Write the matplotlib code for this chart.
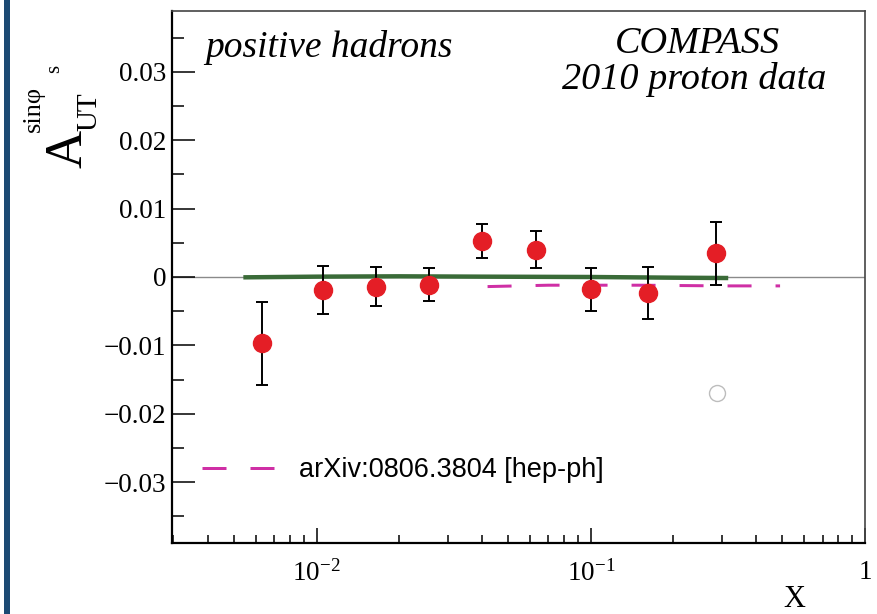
import matplotlib
matplotlib.use("Agg")
import matplotlib.pyplot as plt
from matplotlib.ticker import FixedLocator, FuncFormatter, MultipleLocator, LogLocator, NullFormatter
from matplotlib.patches import Rectangle

plt.rcParams['mathtext.fontset'] = 'custom'
plt.rcParams['mathtext.rm'] = 'Liberation Serif'
plt.rcParams['mathtext.it'] = 'Liberation Serif:italic'

# ---- data ----
x_pts = [0.0063, 0.0105, 0.0164, 0.0257, 0.0402, 0.063, 0.100, 0.161, 0.285]
a_ut = [-0.0097, -0.0019, -0.0014, -0.0011, 0.0053, 0.0040, -0.0018, -0.0023, 0.0035]
a_err = [0.0061, 0.0035, 0.0029, 0.0024, 0.0025, 0.0027, 0.0031, 0.0038, 0.0046]

green_x = [0.0054, 0.01, 0.02, 0.04, 0.1, 0.2, 0.317]
green_y = [-0.00005, 0.00005, 0.0001, 0.00005, 0.0, -0.0001, -0.00015]

theory_x = [0.042, 0.07, 0.15, 0.3, 0.49]
theory_y = [-0.0014, -0.0012, -0.0012, -0.0013, -0.0013]
theory_label = "arXiv:0806.3804 [hep-ph]"

open_x = [0.288]
open_y = [-0.0169]

y_ticks = [-0.03, -0.02, -0.01, 0.0, 0.01, 0.02, 0.03]
x_ticks = [0.01, 0.1, 1.0]
x_ticklabels = [r'$10^{-2}$', r'$10^{-1}$', '1']

W, H = 877, 614
fig = plt.figure(figsize=(W / 100, H / 100), dpi=100)
fig.patch.set_facecolor('white')
fig.add_artist(Rectangle((4 / W, 0), 5.5 / W, 1, transform=fig.transFigure,
                         facecolor='#1c4a73', edgecolor='none'))

ax = fig.add_axes([172 / W, 1 - 543 / H, (865 - 172) / W, (543 - 11) / H])
ax.set_xscale('log')
ax.set_xlim(0.002966, 1.0)
ax.set_ylim(-0.0389, 0.0389)

ax.axhline(0, color='#8a8a8a', lw=1.0, zorder=1)

ax.plot(green_x, green_y, color='#3a6b38', lw=3.2, solid_capstyle='butt', zorder=2)
ax.plot(theory_x, theory_y, color='#cf2fa5', lw=2.16, dashes=(8, 8),
        dash_capstyle='butt', label=theory_label, zorder=2)

ax.errorbar(x_pts, a_ut, yerr=a_err, fmt='o', color='#e41e26', markersize=13,
            ecolor='black', elinewidth=1.4, capsize=4.5, capthick=1.4, zorder=3)

ax.plot(open_x, open_y, 'o', markersize=11.5, markerfacecolor='none',
        markeredgecolor='#bdbdbd', markeredgewidth=1.0, zorder=2)

# ticks
ax.yaxis.set_major_locator(FixedLocator(y_ticks))
ax.yaxis.set_minor_locator(MultipleLocator(0.005))
ax.yaxis.set_major_formatter(FuncFormatter(
    lambda v, p: '0' if abs(v) < 1e-9 else ('%.2f' % v).replace('-', '\u2212')))
ax.xaxis.set_major_locator(FixedLocator(x_ticks))
ax.xaxis.set_major_formatter(FuncFormatter(lambda v, p: x_ticklabels[p] if p is not None and p < len(x_ticklabels) else ''))
ax.xaxis.set_minor_locator(LogLocator(base=10, subs=[2, 3, 4, 5, 6, 7, 8, 9], numticks=20))
ax.xaxis.set_minor_formatter(NullFormatter())

ax.tick_params(axis='y', which='major', direction='in', length=16.5, width=1.1, pad=4,
               labelsize=19.5, right=False)
ax.tick_params(axis='y', which='minor', direction='in', length=8.6, width=1.1, right=False)
ax.tick_params(axis='x', which='major', direction='in', length=10.8, width=1.1, pad=12,
               labelsize=19.5, top=False)
ax.tick_params(axis='x', which='minor', direction='in', length=5.8, width=1.1, top=False)
for lab in ax.get_yticklabels() + ax.get_xticklabels():
    lab.set_family('Liberation Serif')

for s in ['left', 'bottom']:
    ax.spines[s].set_linewidth(1.6)
    ax.spines[s].set_color('black')
for s in ['top', 'right']:
    ax.spines[s].set_linewidth(1.2)
    ax.spines[s].set_color('#444444')

# legend
leg = ax.legend(loc='center left', bbox_to_anchor=(202 / W, 1 - 470 / H),
                bbox_transform=fig.transFigure, frameon=False, borderpad=0,
                borderaxespad=0, handlelength=2.69, handletextpad=0.89,
                prop={'family': 'Liberation Sans', 'size': 19.5})

# annotations
serif_it = dict(family='Liberation Serif', style='italic')
fig.text(205 / W, 1 - 57 / H, 'positive hadrons', fontsize=27, ha='left', va='baseline', **serif_it)
fig.text(697 / W, 1 - 53 / H, 'COMPASS', fontsize=27.5, ha='center', va='baseline', **serif_it)
fig.text(694 / W, 1 - 89 / H, '2010 proton data', fontsize=27.5, ha='center', va='baseline', **serif_it)

# y label pieces
fig.text(68 / W, 1 - 149 / H, 'A', fontsize=38, rotation=90, ha='center', va='center', family='Liberation Serif')
fig.text(89 / W, 1 - 112 / H, 'UT', fontsize=21, rotation=90, ha='center', va='center', family='Liberation Serif')
fig.text(34 / W, 1 - 109 / H, 'sin\u03c6', fontsize=19, rotation=90, ha='center', va='center', family='Liberation Serif')
fig.text(55 / W, 1 - 69 / H, 's', fontsize=15, rotation=90, ha='center', va='center', family='Liberation Serif')

# x label
fig.text(794 / W, 0.0, 'X', fontsize=22, ha='center', va='bottom', family='Liberation Serif')

fig.savefig('out.png', dpi=100)
